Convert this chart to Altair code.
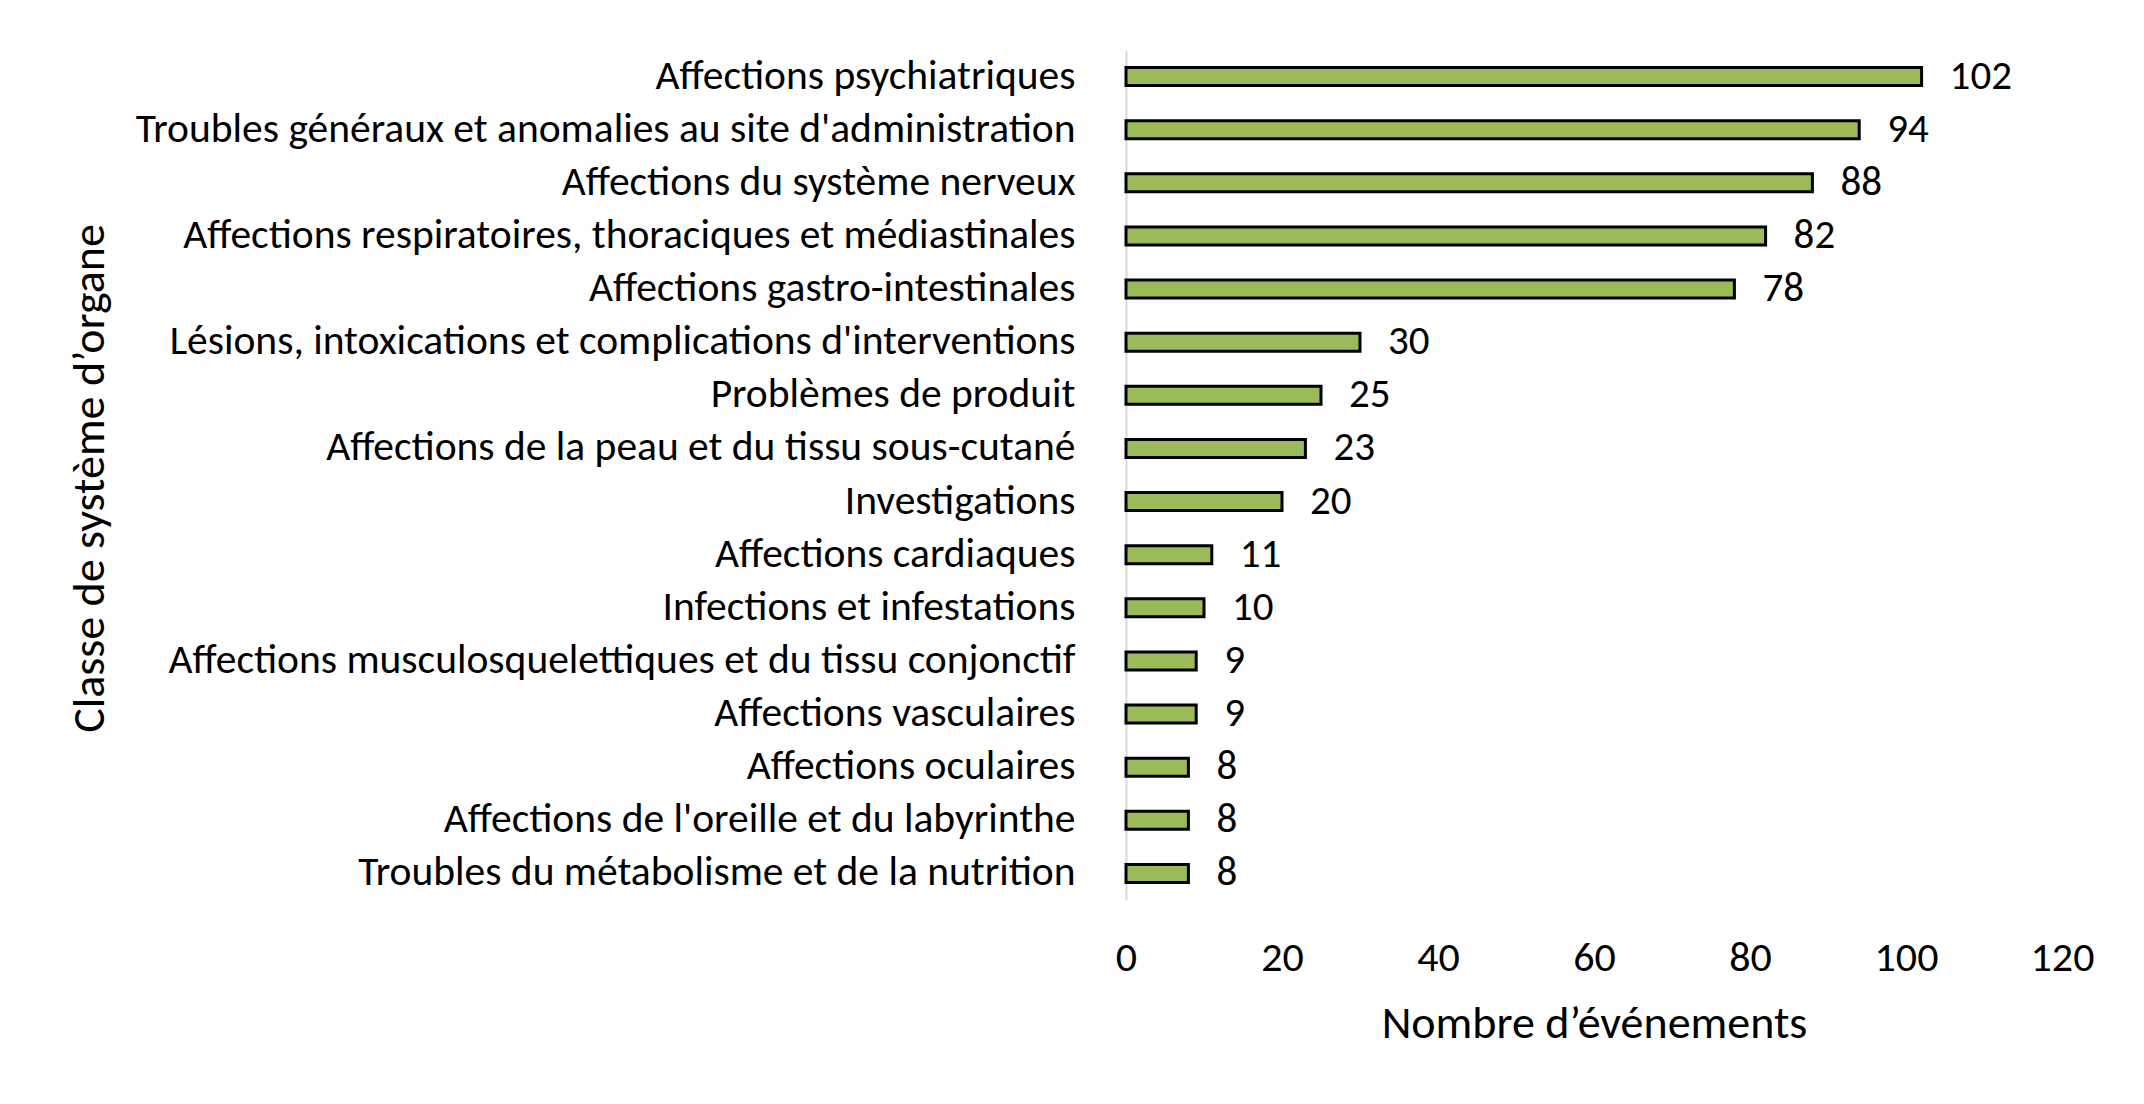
import altair as alt
import pandas as pd

categories = [
    "Affections psychiatriques",
    "Troubles généraux et anomalies au site d'administration",
    "Affections du système nerveux",
    "Affections respiratoires, thoraciques et médiastinales",
    "Affections gastro-intestinales",
    "Lésions, intoxications et complications d'interventions",
    "Problèmes de produit",
    "Affections de la peau et du tissu sous-cutané",
    "Investigations",
    "Affections cardiaques",
    "Infections et infestations",
    "Affections musculosquelettiques et du tissu conjonctif",
    "Affections vasculaires",
    "Affections oculaires",
    "Affections de l'oreille et du labyrinthe",
    "Troubles du métabolisme et de la nutrition",
]
values = [102, 94, 88, 82, 78, 30, 25, 23, 20, 11, 10, 9, 9, 8, 8, 8]
x_ticks = [0, 20, 40, 60, 80, 100, 120]

df = pd.DataFrame({"cat": categories, "val": values})

FONT = "Carlito, Calibri, Lato, sans-serif"
W, H = 936, 850

y_enc = alt.Y(
    "cat:N",
    sort=categories,
    scale=alt.Scale(paddingInner=0.66, paddingOuter=0.33),
    axis=alt.Axis(
        title="Classe de système d’organe",
        titleFont=FONT,
        titleFontSize=46,
        titleFontWeight="normal",
        titleColor="black",
        titleAngle=-90,
        titleX=-1037,
        titleY=H / 2 + 3,
        titleAlign="center",
        titleBaseline="middle",
        labelFont=FONT,
        labelFontSize=41.5,
        labelColor="black",
        labelPadding=51,
        labelLimit=1200,
        ticks=False,
        tickSize=0,
        domain=True,
        domainColor="#d9d9d9",
        domainWidth=2,
        grid=False,
    ),
)

x_enc = alt.X(
    "val:Q",
    scale=alt.Scale(domain=[0, 120], nice=False),
    axis=alt.Axis(
        title="Nombre d’événements",
        titleFont=FONT,
        titleFontSize=46,
        titleFontWeight="normal",
        titleColor="black",
        titleY=123,
        titleBaseline="middle",
        labelFont=FONT,
        labelFontSize=42,
        labelColor="black",
        labelBaseline="middle",
        labelPadding=57,
        labelFlush=False,
        values=x_ticks,
        ticks=False,
        tickSize=0,
        domain=False,
        grid=False,
    ),
)

bars = alt.Chart(df).mark_bar(
    color="#9BBB59", stroke="black", strokeWidth=3
).encode(x=x_enc, y=y_enc)

labels = alt.Chart(df).mark_text(
    align="left", baseline="middle", dx=28, font=FONT, fontSize=41, color="black"
).encode(x=alt.X("val:Q"), y=alt.Y("cat:N", sort=categories), text="val:Q")

chart = (
    alt.layer(bars, labels)
    .properties(
        width=W,
        height=H,
        background="white",
        autosize=alt.AutoSizeParams(type="none"),
        padding={"left": 1118, "top": 42, "right": 70, "bottom": 150},
    )
    .configure_view(stroke="transparent", strokeWidth=0)
)

chart.save("out.html", embed_options={"renderer": "svg", "actions": False})
